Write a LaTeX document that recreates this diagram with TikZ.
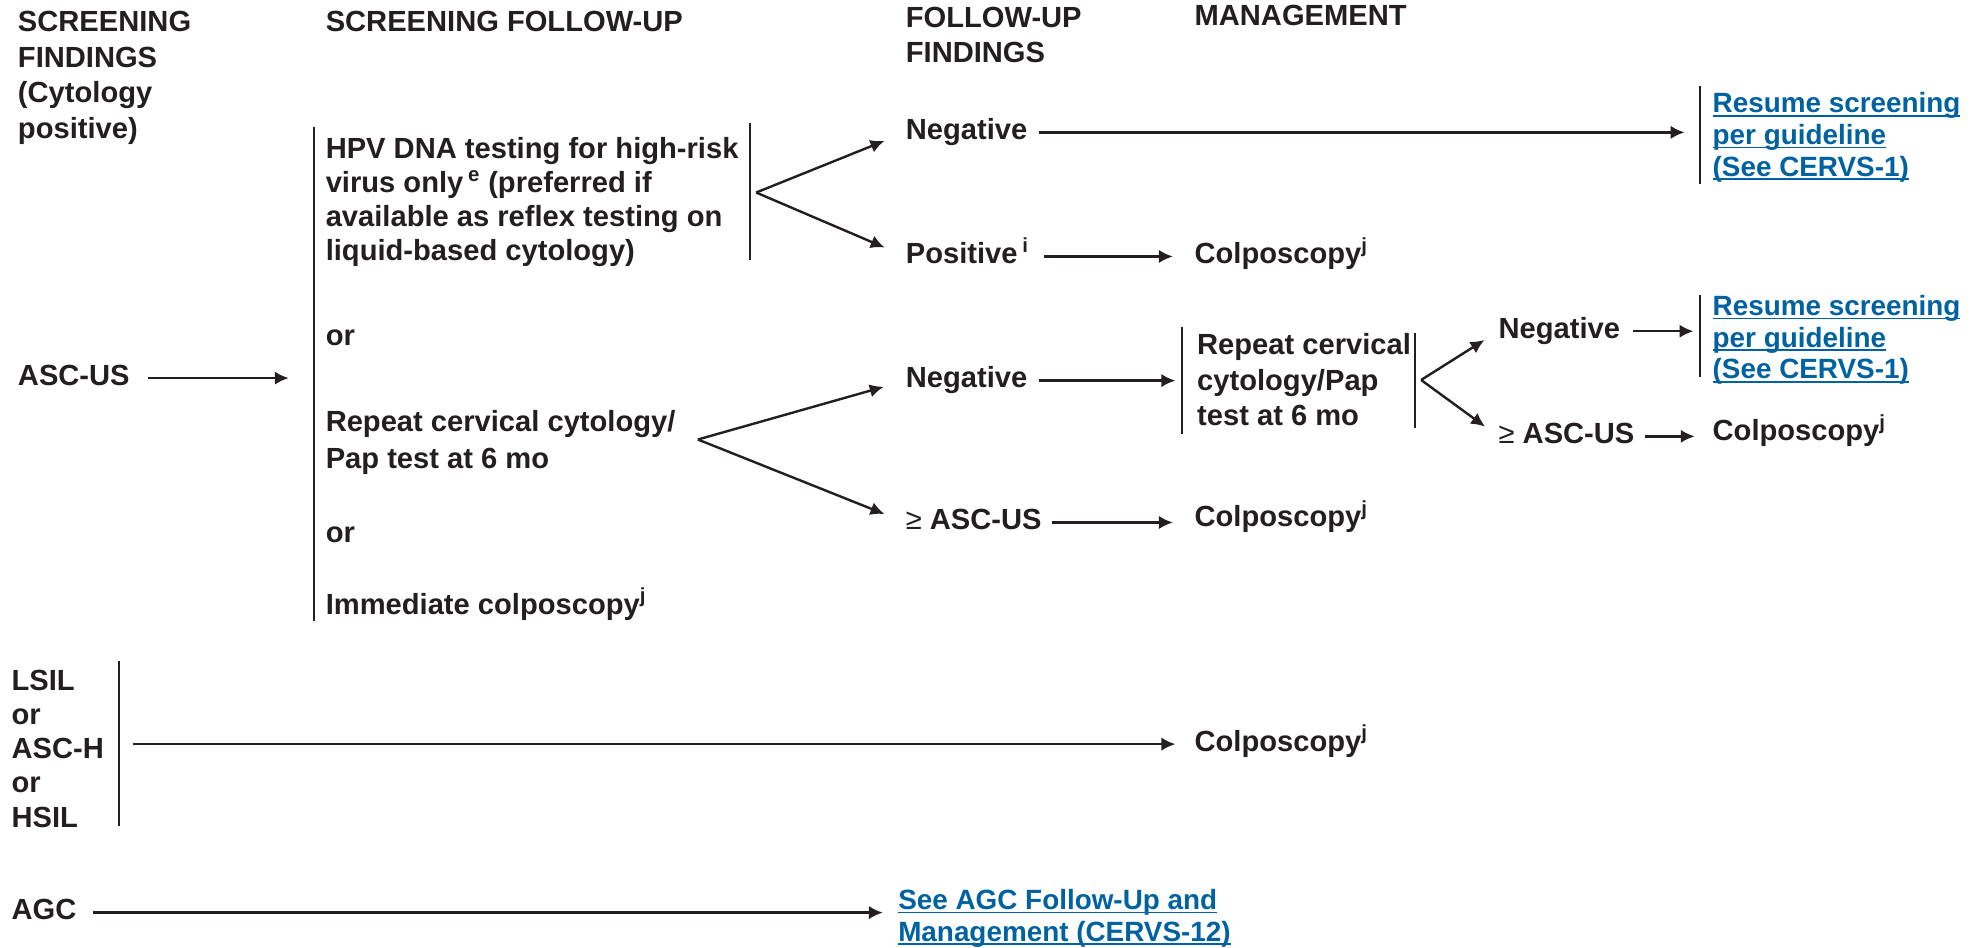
\documentclass[tikz,border=0pt]{standalone}
\usepackage{fontspec}
\setmainfont{Liberation Sans}
\usetikzlibrary{arrows.meta,positioning,calc}
\definecolor{inkc}{RGB}{35,31,32}
\definecolor{nccnblue}{RGB}{0,98,160}
\newcommand{\linkline}[1]{\setbox0\hbox{#1}\rlap{\rule[-3pt]{\wd0}{1.3pt}}\box0}

\begin{document}
\begin{tikzpicture}[x=1pt, y=-1pt,
  txt/.style={anchor=base west, inner sep=0pt, align=left, text=inkc,
    font=\fontsize{23}{27}\selectfont\bfseries},
  one/.style={txt, text height=16pt, text depth=5pt},
  link/.style={txt, text=nccnblue, font=\fontsize{22}{25}\selectfont\bfseries},
  bar/.style={draw=inkc, line width=1.3pt},
  arr/.style={draw=inkc, line width=1.9pt, -{Latex[length=11pt,width=10.5pt]}}]

  \useasboundingbox (0,0) rectangle (1568,748);

  % column heads (multi-line nodes sit on their last baseline)
  \node[txt, font=\fontsize{23}{28}\selectfont\bfseries] (hScr) at (14,109) {SCREENING\\FINDINGS\\(Cytology\\positive)};
  \node[txt] (hFu) at (257,25) {SCREENING FOLLOW-UP};
  \node[txt] (hFind) at (715,49) {FOLLOW-UP\\FINDINGS};
  \node[txt] (hMgmt) at (943,20) {MANAGEMENT};

  % ASC-US
  \node[one] (ascus) at (14,304) {ASC-US};
  \coordinate (fuTop) at (248,100);
  \coordinate (fuBot) at (248,490);
  \draw[bar] (fuTop) -- (fuBot);
  \draw[arr, shorten <=14pt, shorten >=20pt] (ascus.east) -- (ascus.east -| fuTop);

  \node[txt] (hpv) at (257,206) {HPV DNA testing for high-risk\\virus only\,\textsuperscript{e} (preferred if\\available as reflex testing on\\liquid-based cytology)};
  \coordinate (hpvTop) at (592,97);
  \coordinate (hpvBot) at (592,205);
  \draw[bar] (hpvTop) -- (hpvBot);
  \coordinate (fork1) at (597,152);
  \node[one] (or1) at (257,273) {or};
  \node[txt, font=\fontsize{23}{29}\selectfont\bfseries] (rep1) at (257,370) {Repeat cervical cytology/\\Pap test at 6 mo};
  \coordinate (fork2) at (551,347);
  \node[one] (or2) at (257,428) {or};
  \node[one] (immed) at (257,485) {Immediate colposcopy\textsuperscript{j}};

  % follow-up findings
  \node[one] (neg1) at (715,110) {Negative};
  \node[one] (pos1) at (715,208) {Positive\,\textsuperscript{i}};
  \node[one] (neg2) at (715,306) {Negative};
  \node[one] (geq2) at (715,418) {{\mdseries ≥} ASC-US};
  \draw[arr, shorten >=18pt] (fork1) -- (neg1.west);
  \draw[arr, shorten >=18pt] (fork1) -- (pos1.west);
  \draw[arr, shorten >=18pt] (fork2) -- (neg2.west);
  \draw[arr, shorten >=18pt] (fork2) -- (geq2.west);

  % management
  \node[one] (col1) at (943,208) {Colposcopy\textsuperscript{j}};
  \node[one] (col3) at (943,416) {Colposcopy\textsuperscript{j}};
  \node[txt, font=\fontsize{23}{28}\selectfont\bfseries] (rep2) at (945,336) {Repeat cervical\\cytology/Pap\\test at 6 mo};
  \coordinate (rpLTop) at (933,258);
  \coordinate (rpLBot) at (933,343);
  \coordinate (rpRTop) at (1117,263);
  \coordinate (rpRBot) at (1117,338);
  \draw[bar] (rpLTop) -- (rpLBot);
  \draw[bar] (rpRTop) -- (rpRBot);
  \coordinate (fork3) at (1122,300);
  \node[one] (neg3) at (1183,267) {Negative};
  \node[one] (geq1) at (1183,350) {{\mdseries ≥} ASC-US};
  \node[one] (col2) at (1352,348) {Colposcopy\textsuperscript{j}};
  \draw[arr, shorten >=13pt] (fork3) -- (neg3.west);
  \draw[arr, shorten >=13pt] (fork3) -- (geq1.west);

  \node[link] (res1) at (1352,139) {\linkline{Resume screening}\\\linkline{per guideline}\\\linkline{(See CERVS-1)}};
  \coordinate (r1Top) at (1342,68);
  \coordinate (r1Bot) at (1342,145);
  \draw[bar] (r1Top) -- (r1Bot);
  \node[link] (res2) at (1352,299) {\linkline{Resume screening}\\\linkline{per guideline}\\\linkline{(See CERVS-1)}};
  \coordinate (r2Top) at (1342,233);
  \coordinate (r2Bot) at (1342,298);
  \draw[bar] (r2Top) -- (r2Bot);

  \draw[arr, shorten <=9pt, shorten >=12pt] (neg1.east) -- (neg1.east -| r1Top);
  \draw[arr, shorten <=12pt, shorten >=17pt] (pos1.east) -- (pos1.east -| col1.west);
  \draw[arr, shorten <=9pt, shorten >=5pt] (neg2.east) -- (neg2.east -| rpLTop);
  \draw[arr, shorten <=8pt, shorten >=17pt] (geq2.east) -- (geq2.east -| col3.west);
  \draw[arr, shorten <=10pt, shorten >=5pt] (neg3.east) -- (neg3.east -| r2Top);
  \draw[arr, shorten <=8pt, shorten >=14pt] (geq1.east) -- (geq1.east -| col2.west);

  % LSIL / ASC-H / HSIL
  \node[txt] (lsil) at (9,653) {LSIL\\or\\ASC-H\\or\\HSIL};
  \coordinate (lsTop) at (94,522);
  \coordinate (lsBot) at (94,652);
  \draw[bar] (lsTop) -- (lsBot);
  \node[one] (col4) at (943,593) {Colposcopy\textsuperscript{j}};
  \draw[arr, shorten <=11pt, shorten >=15pt] (col4.west -| lsTop) -- (col4.west);

  % AGC
  \node[one] (agc) at (9,726) {AGC};
  \node[link] (agcref) at (709,743) {\linkline{See AGC Follow-Up and}\\\linkline{Management (CERVS-12)}};
  \draw[arr, shorten <=13pt, shorten >=12pt] (agc.east) -- (agc.east -| agcref.west);
\end{tikzpicture}
\end{document}
